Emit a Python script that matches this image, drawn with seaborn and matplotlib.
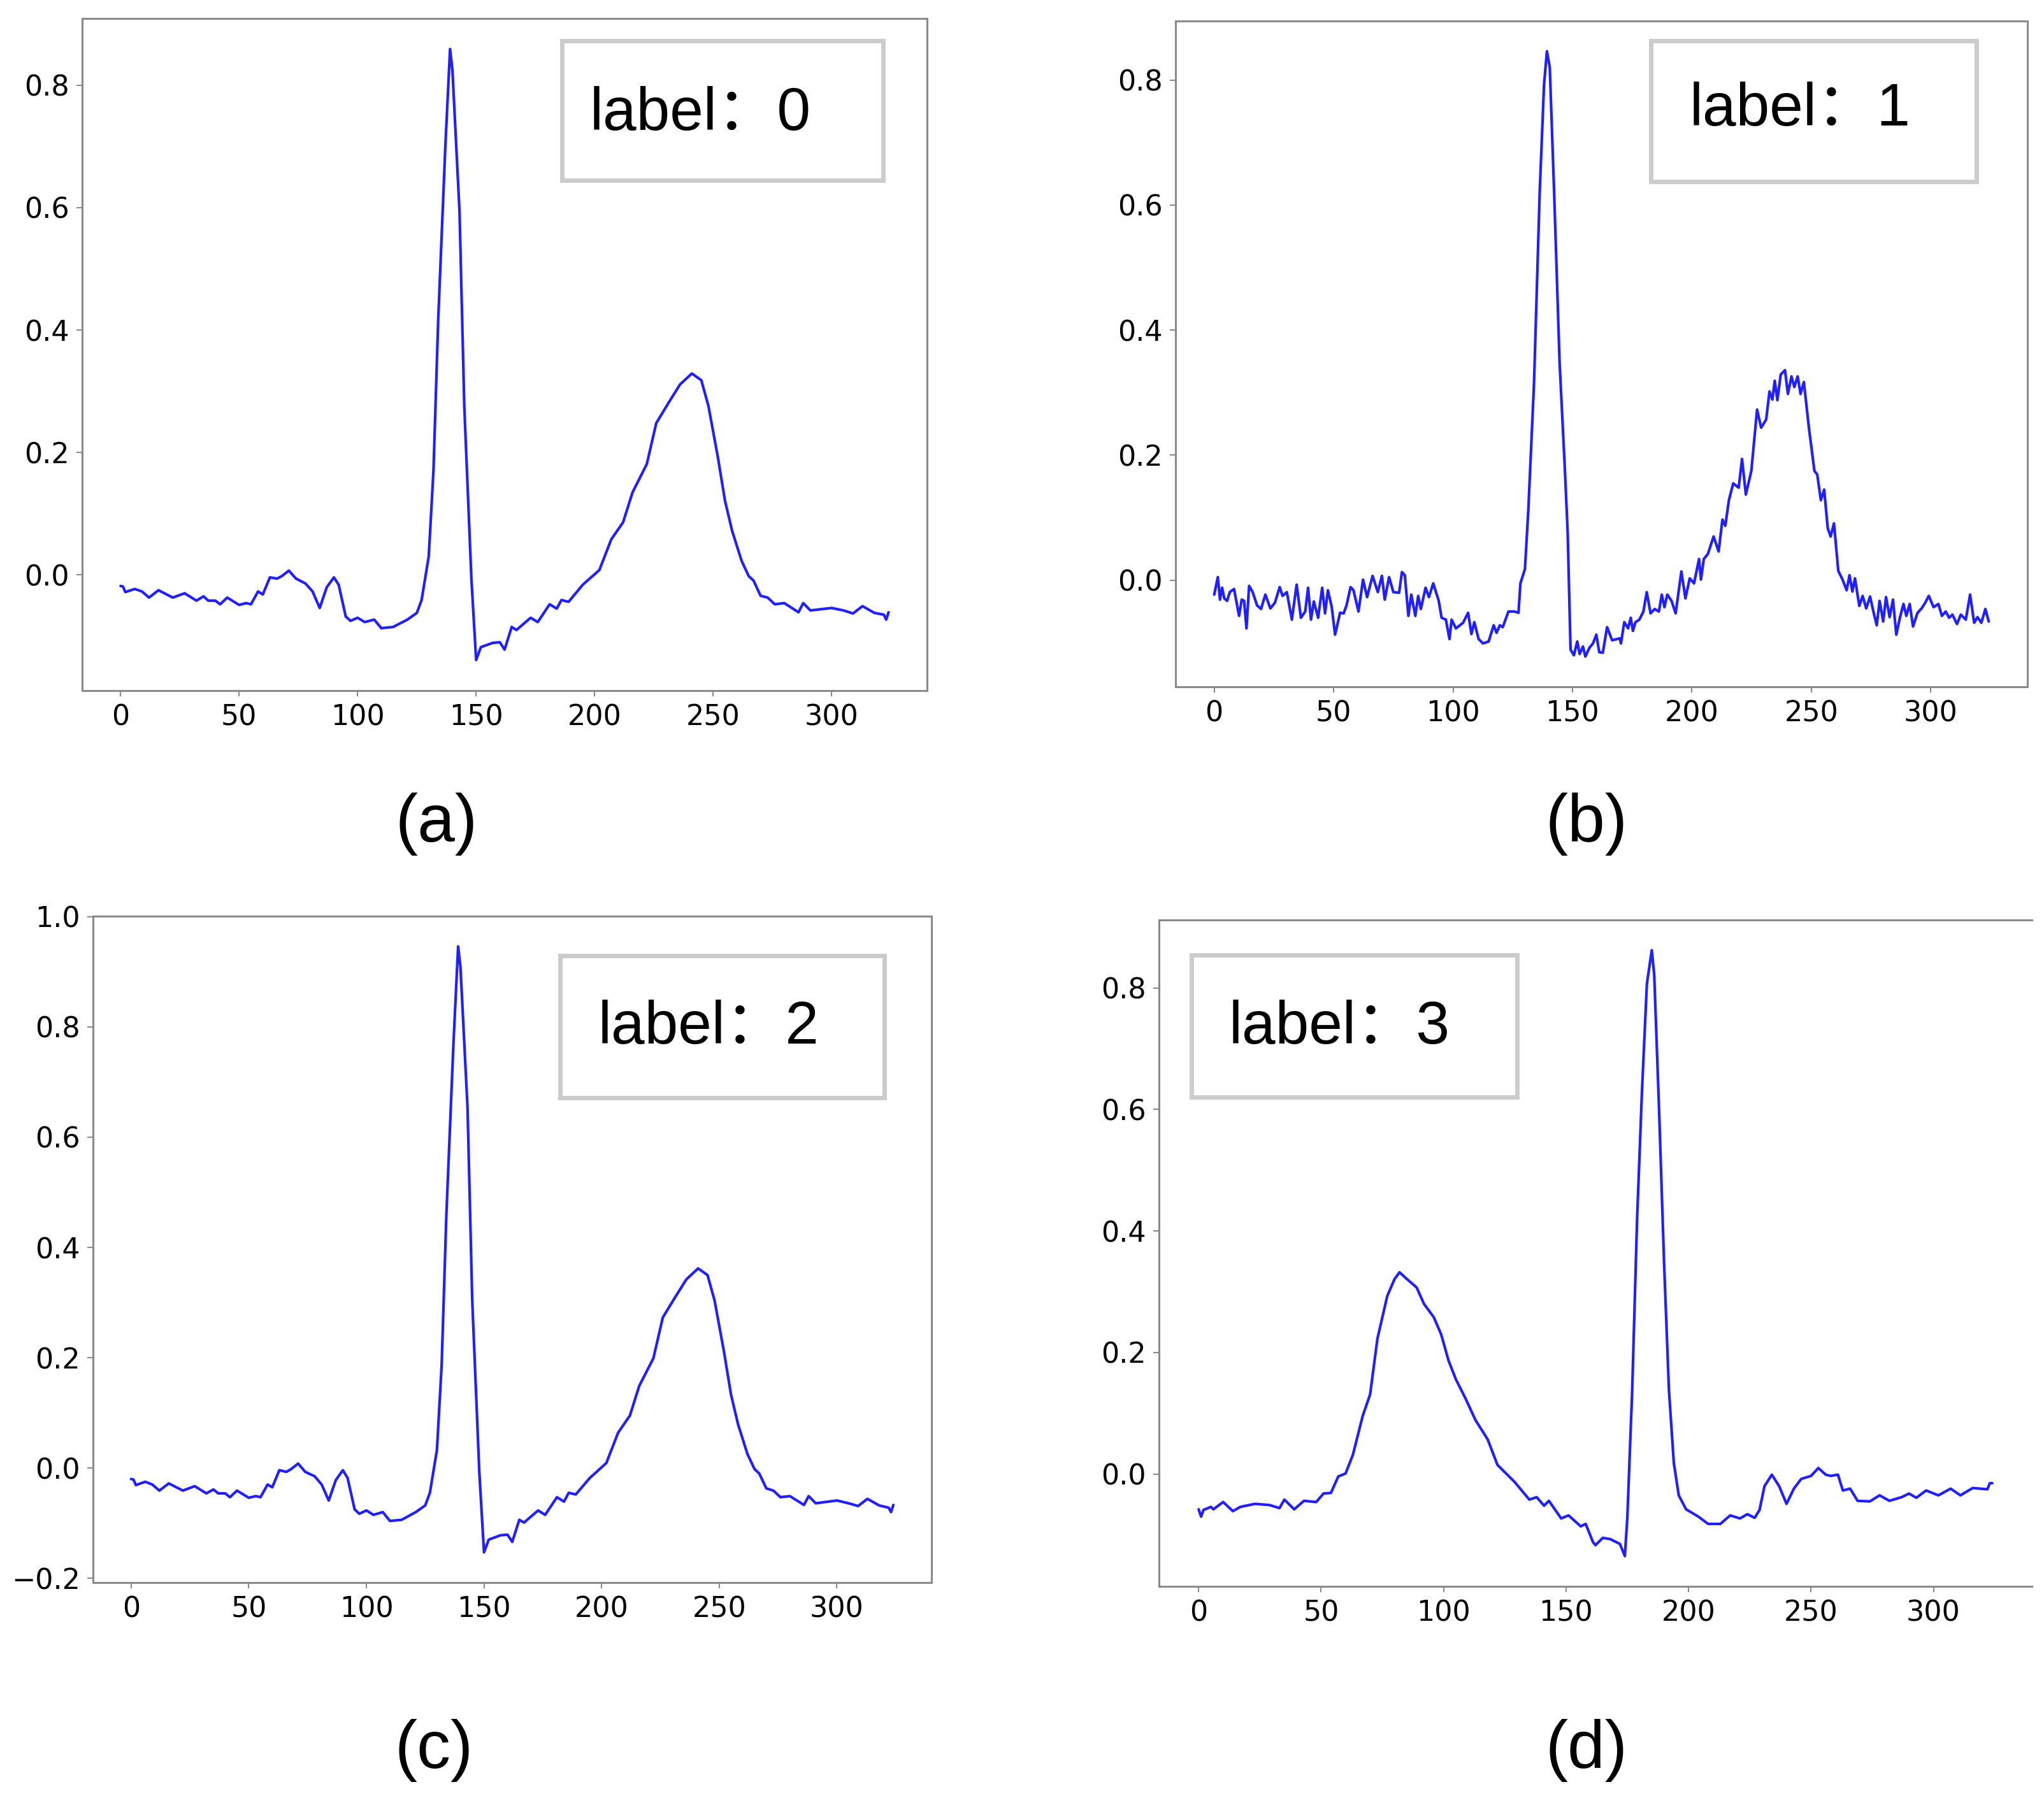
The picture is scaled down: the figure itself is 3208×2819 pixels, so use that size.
import matplotlib
matplotlib.use("Agg")
import matplotlib.pyplot as plt
import matplotlib.patches as patches
import seaborn as sns

a_x = [0, 1, 2, 6, 9, 12, 16, 22, 27, 32, 35, 37, 40, 42, 45, 50, 53, 55, 58, 60,
       63, 66, 68, 71, 74, 78, 81, 84, 87, 90, 92, 95, 97, 100, 103, 107, 110, 115, 121, 125,
       127, 130, 132, 134, 137, 139, 140, 143, 145, 148, 150, 152, 157, 160, 162, 165, 167, 170, 173, 176,
       181, 184, 186, 189, 195, 202, 207, 212, 216, 222, 226, 231, 236, 241, 245, 248, 252, 255, 258, 262,
       265, 267, 270, 273, 276, 280, 286, 288, 291, 300, 305, 309, 313, 318, 322, 323, 324]
a_y = [-0.018, -0.019, -0.028, -0.023, -0.027, -0.037, -0.025, -0.037, -0.030, -0.042, -0.035, -0.042, -0.042, -0.048, -0.037, -0.049, -0.046, -0.048, -0.027, -0.032,
       -0.004, -0.006, -0.002, 0.007, -0.006, -0.014, -0.027, -0.054, -0.020, -0.004, -0.016, -0.068, -0.075, -0.070, -0.077, -0.073, -0.087, -0.085, -0.073, -0.062,
       -0.041, 0.030, 0.170, 0.417, 0.699, 0.859, 0.825, 0.593, 0.276, -0.006, -0.139, -0.118, -0.111, -0.110, -0.122, -0.085, -0.090, -0.080, -0.070, -0.077,
       -0.048, -0.055, -0.041, -0.044, -0.016, 0.008, 0.058, 0.086, 0.135, 0.181, 0.248, 0.280, 0.311, 0.329, 0.318, 0.276, 0.192, 0.121, 0.072, 0.023,
       -0.002, -0.009, -0.034, -0.037, -0.048, -0.046, -0.061, -0.046, -0.058, -0.054, -0.058, -0.063, -0.051, -0.062, -0.065, -0.073, -0.061]

b_x = [0, 1.5, 2.4, 3.3, 4.2, 5.4, 6.5, 8.3, 10.4, 11.5, 12.5, 13.5, 14.6, 16.1, 17.9, 19.6, 21.4, 23.5, 25.4, 27.4,
       28.6, 30.4, 32.5, 34.5, 36.3, 38.1, 39.3, 40.5, 41.7, 43.5, 45.2, 46.4, 47.6, 49.2, 50.6, 52.7, 54.2, 55.4, 57.1, 58.3,
       60.4, 62.3, 64.0, 66.3, 68.5, 70.2, 71.4, 73.2, 75.0, 77.4, 78.6, 79.8, 81.3, 82.5, 84.2, 85.4, 86.5, 88.5, 89.9, 91.7,
       94.0, 95.2, 97.0, 98.5, 99.4, 101.2, 104.2, 106.3, 107.7, 108.9, 110.7, 112.5, 114.9, 117.0, 118.2, 119.6, 120.8, 123.2, 125.6, 127.4,
       128.2, 130.1, 131.5, 133.9, 136.3, 138.1, 139.3, 140.5, 142.3, 144.6, 146.8, 148.0, 149.2, 150.6, 152.0, 153.0, 154.4, 155.4, 157.1, 158.6,
       160.0, 161.2, 162.7, 164.5, 166.6, 169.8, 170.3, 171.7, 173.3, 174.4, 175.3, 176.4, 178.0, 179.7, 181.1, 182.7, 184.4, 186.2, 187.4, 188.5,
       189.7, 191.5, 193.2, 195.6, 197.3, 199.1, 200.9, 203.0, 203.8, 205.0, 206.7, 209.1, 211.2, 212.8, 214.0, 215.5, 217.3, 219.6, 221.0, 222.6,
       224.9, 227.3, 229.0, 231.1, 232.5, 233.7, 234.7, 235.8, 237.2, 239.0, 240.2, 241.7, 242.9, 244.3, 245.5, 246.9, 249.0, 251.3, 252.5, 254.0,
       255.4, 256.9, 258.1, 259.5, 261.3, 263.1, 264.8, 266.0, 267.2, 268.3, 270.1, 271.5, 273.0, 274.6, 276.0, 277.4, 278.6, 280.1, 281.3, 282.8,
       284.2, 285.6, 287.1, 288.6, 289.8, 291.2, 292.6, 294.5, 296.2, 297.7, 299.2, 301.2, 303.2, 304.7, 306.3, 307.7, 309.1, 311.0, 312.6, 314.7,
       316.5, 318.2, 319.6, 321.2, 322.9, 324.3]
b_y = [-0.023, 0.005, -0.031, -0.012, -0.029, -0.033, -0.019, -0.014, -0.057, -0.031, -0.033, -0.077, -0.009, -0.019, -0.040, -0.046, -0.023, -0.045, -0.036, -0.011,
       -0.025, -0.019, -0.063, -0.007, -0.060, -0.050, -0.012, -0.063, -0.034, -0.060, -0.012, -0.053, -0.016, -0.043, -0.087, -0.052, -0.053, -0.040, -0.011, -0.016,
       -0.050, 0.001, -0.027, 0.007, -0.019, 0.007, -0.031, 0.005, -0.019, -0.020, 0.013, 0.008, -0.057, -0.023, -0.057, -0.025, -0.046, -0.012, -0.027, -0.005,
       -0.033, -0.060, -0.063, -0.094, -0.063, -0.077, -0.068, -0.052, -0.086, -0.067, -0.094, -0.101, -0.098, -0.072, -0.084, -0.072, -0.075, -0.050, -0.050, -0.052,
       -0.005, 0.018, 0.111, 0.315, 0.623, 0.793, 0.846, 0.820, 0.623, 0.349, 0.179, 0.076, -0.111, -0.120, -0.098, -0.118, -0.106, -0.122, -0.108, -0.101,
       -0.087, -0.115, -0.116, -0.075, -0.096, -0.093, -0.101, -0.067, -0.077, -0.060, -0.081, -0.067, -0.063, -0.050, -0.019, -0.053, -0.046, -0.050, -0.023, -0.043,
       -0.023, -0.033, -0.053, 0.014, -0.029, 0.003, -0.005, 0.034, 0.001, 0.034, 0.042, 0.070, 0.046, 0.097, 0.087, 0.128, 0.155, 0.148, 0.194, 0.137,
       0.175, 0.273, 0.244, 0.257, 0.302, 0.289, 0.319, 0.288, 0.329, 0.336, 0.298, 0.326, 0.309, 0.326, 0.298, 0.317, 0.244, 0.175, 0.169, 0.128,
       0.145, 0.083, 0.070, 0.091, 0.015, 0.001, -0.016, 0.008, -0.018, 0.003, -0.041, -0.025, -0.045, -0.026, -0.050, -0.072, -0.033, -0.066, -0.027, -0.059,
       -0.031, -0.087, -0.060, -0.038, -0.057, -0.038, -0.074, -0.052, -0.045, -0.036, -0.025, -0.043, -0.038, -0.057, -0.050, -0.060, -0.055, -0.070, -0.055, -0.063,
       -0.023, -0.068, -0.059, -0.068, -0.046, -0.066]

c_x = a_x
c_y = [-0.020, -0.021, -0.031, -0.025, -0.030, -0.041, -0.028, -0.041, -0.033, -0.046, -0.039, -0.046, -0.046, -0.053, -0.041, -0.054, -0.051, -0.053, -0.030, -0.035,
       -0.004, -0.007, -0.002, 0.008, -0.007, -0.015, -0.030, -0.059, -0.022, -0.004, -0.018, -0.075, -0.083, -0.077, -0.085, -0.080, -0.096, -0.094, -0.080, -0.068,
       -0.045, 0.033, 0.187, 0.459, 0.769, 0.946, 0.908, 0.653, 0.304, -0.007, -0.153, -0.130, -0.122, -0.121, -0.134, -0.094, -0.099, -0.088, -0.077, -0.085,
       -0.053, -0.061, -0.045, -0.048, -0.018, 0.009, 0.064, 0.095, 0.149, 0.199, 0.273, 0.308, 0.342, 0.362, 0.350, 0.304, 0.211, 0.133, 0.079, 0.025,
       -0.002, -0.010, -0.037, -0.041, -0.053, -0.051, -0.067, -0.051, -0.064, -0.059, -0.064, -0.069, -0.056, -0.068, -0.072, -0.080, -0.067]

d_x = [0, 1, 2, 5, 6, 10, 14, 17, 23, 29, 33, 35, 39, 43, 48, 51, 54, 57, 60, 63,
       67, 70, 73, 77, 80, 82, 85, 89, 92, 96, 99, 102, 105, 109, 113, 118, 122, 129, 135, 138,
       141, 143, 148, 151, 156, 158, 161, 162, 165, 168, 172, 174, 175, 177, 179, 181, 183, 185, 186, 188,
       190, 192, 194, 196, 199, 204, 208, 213, 217, 221, 224, 227, 229, 231, 234, 237, 240, 243, 246, 250,
       253, 256, 258, 261, 263, 266, 269, 274, 278, 282, 287, 290, 293, 297, 302, 307, 311, 316, 319, 322,
       323, 324]
d_y = [-0.058, -0.070, -0.059, -0.054, -0.058, -0.046, -0.061, -0.054, -0.049, -0.051, -0.056, -0.042, -0.058, -0.044, -0.046, -0.032, -0.031, -0.004, 0.001, 0.032,
       0.096, 0.131, 0.223, 0.293, 0.321, 0.332, 0.321, 0.307, 0.280, 0.258, 0.230, 0.187, 0.156, 0.124, 0.089, 0.057, 0.015, -0.013, -0.042, -0.038,
       -0.052, -0.044, -0.073, -0.068, -0.086, -0.082, -0.112, -0.117, -0.105, -0.107, -0.115, -0.135, -0.073, 0.138, 0.420, 0.631, 0.807, 0.862, 0.821, 0.596,
       0.349, 0.138, 0.018, -0.035, -0.058, -0.070, -0.082, -0.082, -0.068, -0.073, -0.066, -0.072, -0.059, -0.020, -0.001, -0.020, -0.049, -0.024, -0.008, -0.003,
       0.010, -0.001, -0.003, -0.001, -0.027, -0.024, -0.044, -0.045, -0.035, -0.044, -0.038, -0.032, -0.039, -0.027, -0.035, -0.024, -0.035, -0.023, -0.024, -0.025,
       -0.015, -0.015]

labels = ["label：0", "label：1", "label：2", "label：3"]
captions = ["(a)", "(b)", "(c)", "(d)"]

# ---- style ----
sns.set_style("ticks")
plt.rcParams["font.family"] = ["DejaVu Sans"]
label_font = ["Liberation Sans", "Noto Sans CJK SC", "DejaVu Sans"]
line_color = "#1f1fff"
spine_color = "#8a8a8a"

fig = plt.figure(figsize=(32.08, 28.19), dpi=100)

# axes rectangles in figure fractions, label box and text spots in axes fractions
axes_rects = [
    [0.0402, 0.6155, 0.4133, 0.3742],
    [0.5751, 0.6176, 0.4168, 0.3707],
    [0.0455, 0.1188, 0.4102, 0.3711],
    [0.5670, 0.1167, 0.4271, 0.3711],
]
box_rects = [
    (0.568, 0.759, 0.380, 0.208),
    (0.558, 0.759, 0.382, 0.211),
    (0.557, 0.728, 0.387, 0.213),
    (0.037, 0.734, 0.373, 0.213),
]
text_pos = [(0.601, 0.834), (0.603, 0.843), (0.602, 0.809), (0.080, 0.8145)]
caption_pos = [(0.2135, 0.5413), (0.7762, 0.5413), (0.2123, 0.0252), (0.7762, 0.0252)]

series = [(a_x, a_y), (b_x, b_y), (c_x, c_y), (d_x, d_y)]

for i, (xs, ys) in enumerate(series):
    ax = fig.add_axes(axes_rects[i])
    sns.lineplot(x=xs, y=ys, ax=ax, color=line_color, linewidth=3.0,
                 estimator=None, sort=False)
    for side, sp in ax.spines.items():
        sp.set_color(spine_color)
        sp.set_linewidth(2.2)
    if i == 3:
        ax.spines["right"].set_visible(False)
    ax.tick_params(axis="both", labelsize=32, length=6.5, width=1.5,
                   color=spine_color, labelcolor="black", pad=8)

    # label box
    bx, by, bw, bh = box_rects[i]
    ax.add_patch(patches.Rectangle((bx, by), bw, bh, transform=ax.transAxes,
                                   fill=False, edgecolor="#cccccc", linewidth=5,
                                   zorder=5))
    tx, ty = text_pos[i]
    ax.text(tx, ty, labels[i], transform=ax.transAxes, ha="left", va="baseline",
            fontsize=68, family=label_font, color="black", zorder=6)

    cx, cy = caption_pos[i]
    fig.text(cx, cy, captions[i], ha="center", va="center", fontsize=76,
             family=label_font, color="black")

fig.savefig("out.png", dpi=100, facecolor="white")
